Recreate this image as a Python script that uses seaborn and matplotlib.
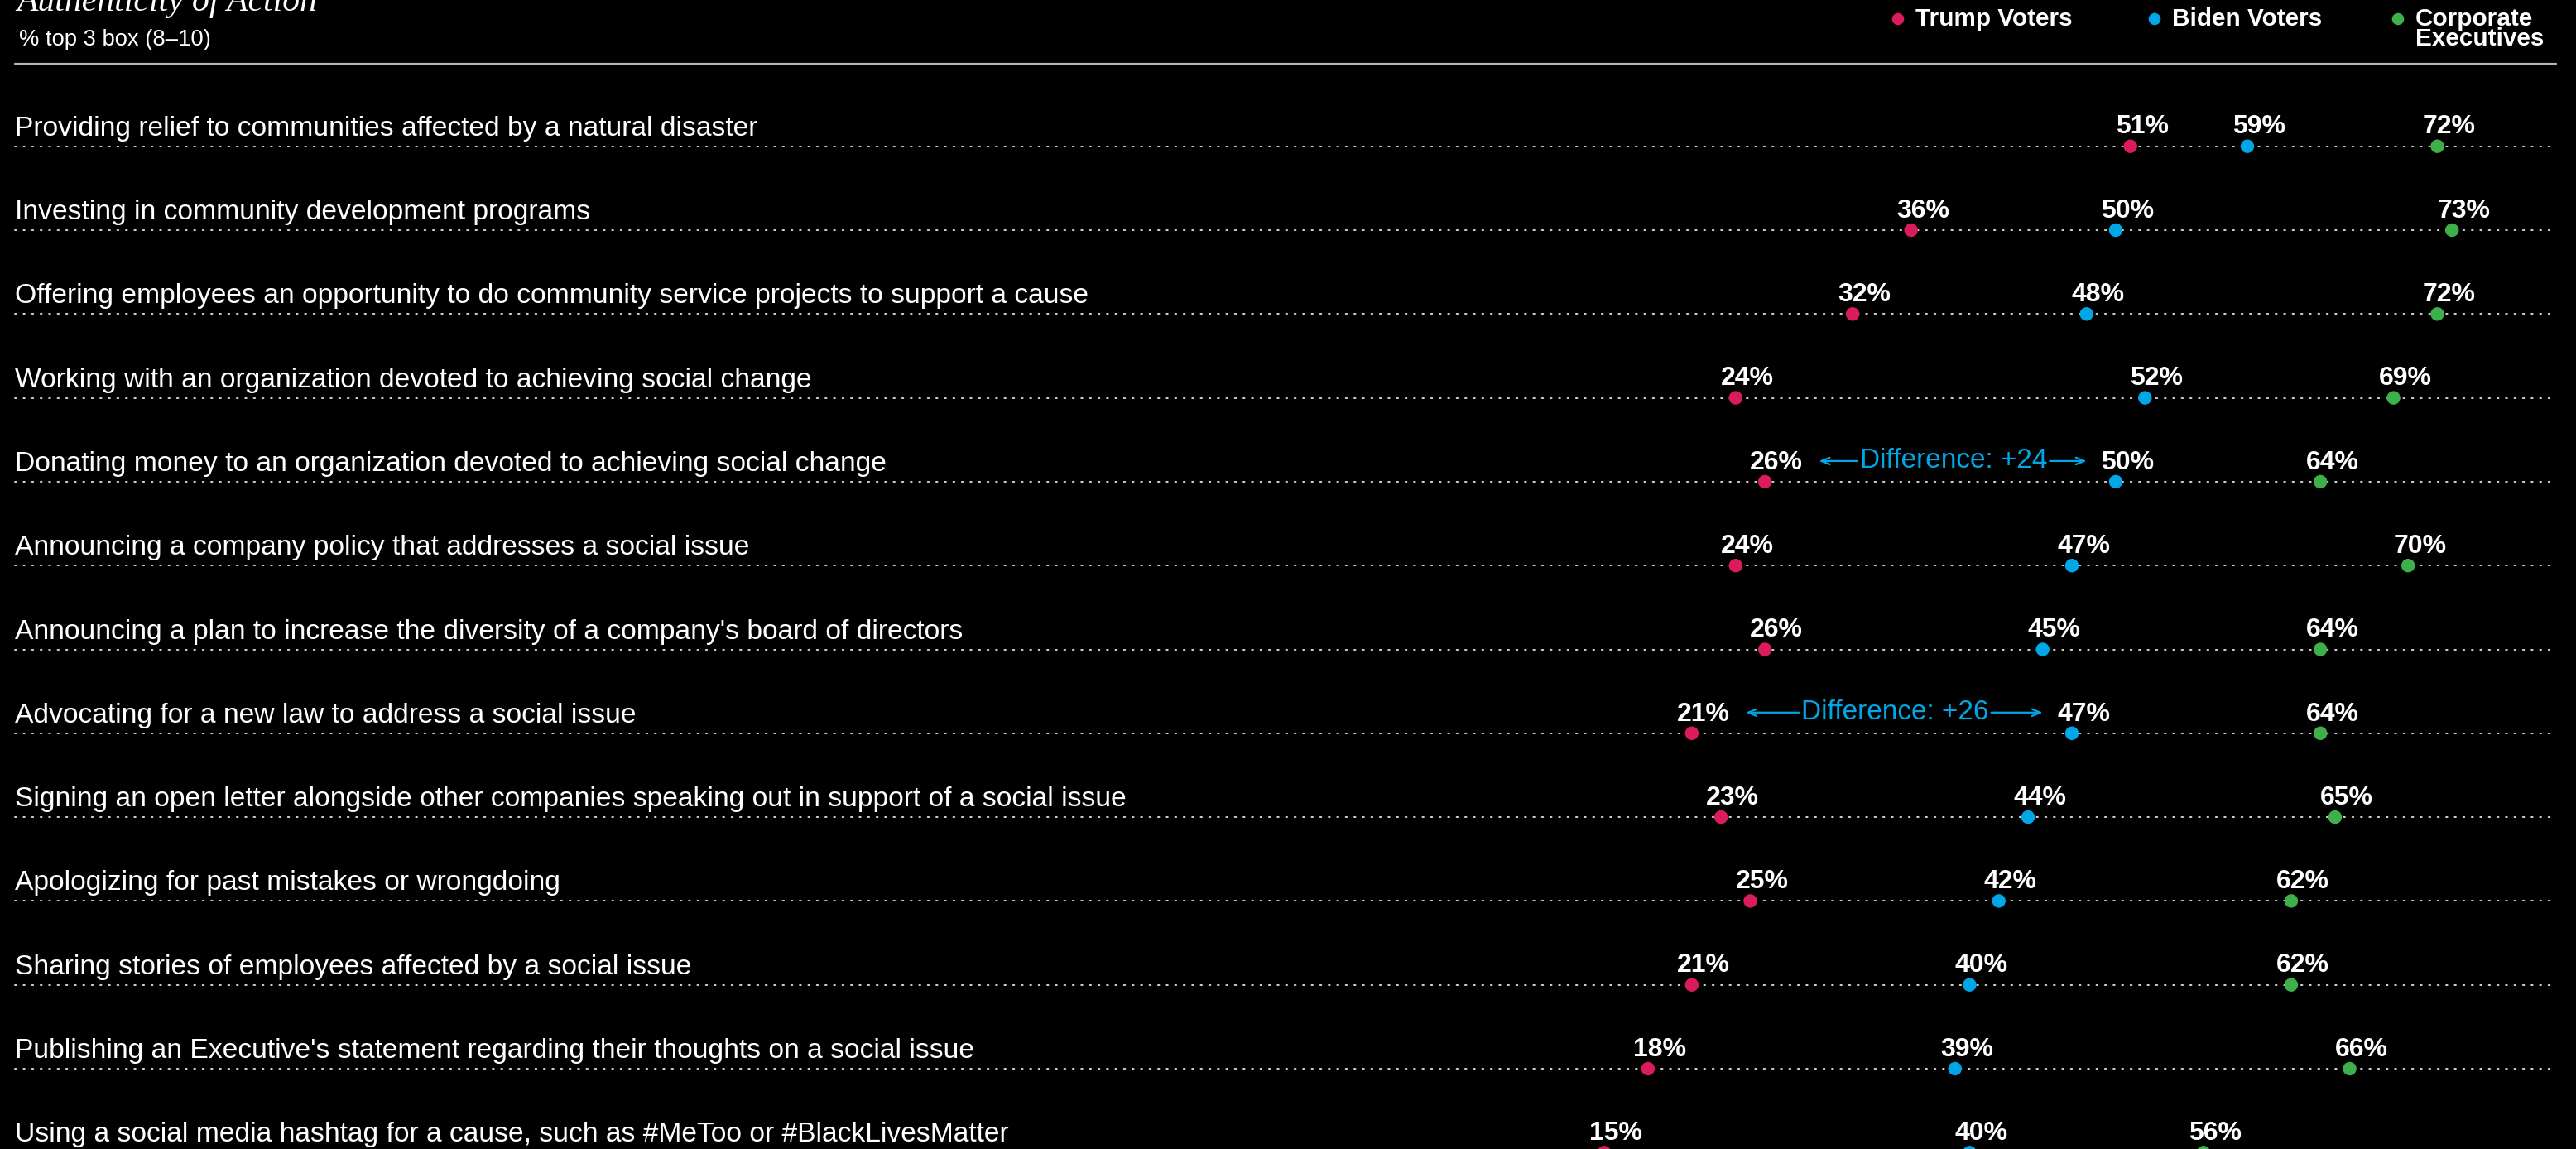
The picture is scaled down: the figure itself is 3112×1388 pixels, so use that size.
"""
Authenticity of Action: dot plot of % top 3 box (8-10) by group.
"""

import numpy as np
import pandas as pd
import matplotlib.pyplot as plt
import seaborn as sns


actions = [
    "Providing relief to communities affected by a natural disaster",
    "Investing in community development programs",
    "Offering employees an opportunity to do community service projects to support a cause",
    "Working with an organization devoted to achieving social change",
    "Donating money to an organization devoted to achieving social change",
    "Announcing a company policy that addresses a social issue",
    "Announcing a plan to increase the diversity of a company's board of directors",
    "Advocating for a new law to address a social issue",
    "Signing an open letter alongside other companies speaking out in support of a social issue",
    "Apologizing for past mistakes or wrongdoing",
    "Sharing stories of employees affected by a social issue",
    "Publishing an Executive's statement regarding their thoughts on a social issue",
    "Using a social media hashtag for a cause, such as #MeToo or #BlackLivesMatter",
]
trump = [51, 36, 32, 24, 26, 24, 26, 21, 23, 25, 21, 18, 15]
biden = [59, 50, 48, 52, 50, 47, 45, 47, 44, 42, 40, 39, 40]
execs = [72, 73, 72, 69, 64, 70, 64, 64, 65, 62, 62, 66, 56]

groups = ["Trump Voters", "Biden Voters", "Corporate Executives"]
legend_labels = ["Trump Voters", "Biden Voters", "Corporate\nExecutives"]
colors = ["#DA1C5C", "#00A6E6", "#3DB04B"]

# rows with a "Difference" callout between Trump and Biden voters
diff_rows = [4, 7]

sns.set_theme(style="white")
plt.rcParams["font.family"] = ["Liberation Sans", "DejaVu Sans"]

W, H, DPI = 3112, 1388, 100
X0_PX, PX_PER_PCT = 1673, 17.66   # x pixel of 0 %, pixels per 1 %
ROW0_PX, ROW_PX = 176.7, 101.3    # y pixel of first row, row spacing


def px2x(px):
    return (px - X0_PX) / PX_PER_PCT


def px2y(py):
    return (py - ROW0_PX) / ROW_PX


fig = plt.figure(figsize=(W / DPI, H / DPI), dpi=DPI, facecolor="black")
ax = fig.add_axes([0, 0, 1, 1])
ax.set_facecolor("black")

df = pd.DataFrame({"action": actions, groups[0]: trump, groups[1]: biden, groups[2]: execs})
long = df.reset_index().melt(id_vars=["index", "action"], var_name="group", value_name="pct")

# --- dotted guide lines ---
for i in range(len(actions)):
    ax.plot([px2x(18), px2x(3088)], [i, i], ls=(0, (0.8, 4.5)), lw=1.4,
            color="#d5d5d5", dash_capstyle="round", zorder=1)

sns.scatterplot(data=long, x="pct", y="index", hue="group",
                palette=dict(zip(groups, colors)), s=140, edgecolor="none",
                legend=False, ax=ax, zorder=3)
ax.set_xlim(px2x(0), px2x(W))
ax.set_ylim(px2y(H), px2y(0))
ax.axis("off")

# --- value labels and row labels ---
for _, r in long.iterrows():
    ax.annotate(f"{r['pct']}%", (r["pct"], r["index"]), xytext=(10.2, 11),
                textcoords="offset points", ha="center", va="baseline",
                fontsize=23, fontweight="bold", color="white", zorder=4,
                annotation_clip=False)

for i, label in enumerate(actions):
    ax.text(px2x(18), i - 13 / ROW_PX, label, fontsize=24.2, color="white",
            va="baseline", ha="left")

# --- difference callouts ---
blue = colors[1]
diff_texts = []
for i in diff_rows:
    t, b = trump[i], biden[i]
    yc = i - 25 / ROW_PX
    txt = ax.text((t + b) / 2 + 0.9, yc, f"Difference: +{b - t}", color=blue,
                  fontsize=24, ha="center", va="center")
    diff_texts.append((i, yc, txt))

fig.canvas.draw()
inv = ax.transData.inverted()
for i, yc, txt in diff_texts:
    bb = txt.get_window_extent()
    left = inv.transform((bb.x0 - 3, 0))[0]
    right = inv.transform((bb.x1 + 3, 0))[0]
    arrow = dict(arrowstyle="->,head_length=0.6,head_width=0.25", color=blue,
                 lw=1.6, shrinkA=0, shrinkB=0)
    ax.annotate("", xy=(trump[i] + 3.7, yc), xytext=(left, yc), arrowprops=arrow)
    ax.annotate("", xy=(biden[i] - 2.0, yc), xytext=(right, yc), arrowprops=arrow)

# --- header ---
fig.text(20 / W, 1 - 13 / H, "Authenticity of Action", family=["Liberation Serif", "DejaVu Serif"],
         style="italic", fontsize=30, color="white", va="baseline")
fig.text(23 / W, 1 - 48 / H, "% top 3 box (8–10)", fontsize=19.7, color="white", va="center")
ax.plot([px2x(18), px2x(3088)], [px2y(77)] * 2, color="#b5b5b5", lw=1.6)

legend_px = [2293, 2603, 2897]
ax.scatter([px2x(p) for p in legend_px], [px2y(23)] * 3, s=110, c=colors, edgecolor="none")
for p, lab in zip(legend_px, legend_labels):
    lines = lab.split("\n")
    for k, line in enumerate(lines):
        ax.text(px2x(p + 21), px2y(23 + 24 * k), line, fontsize=21.4, fontweight="bold",
                color="white", va="center", ha="left")

fig.savefig("out.png", dpi=DPI, facecolor="black")
